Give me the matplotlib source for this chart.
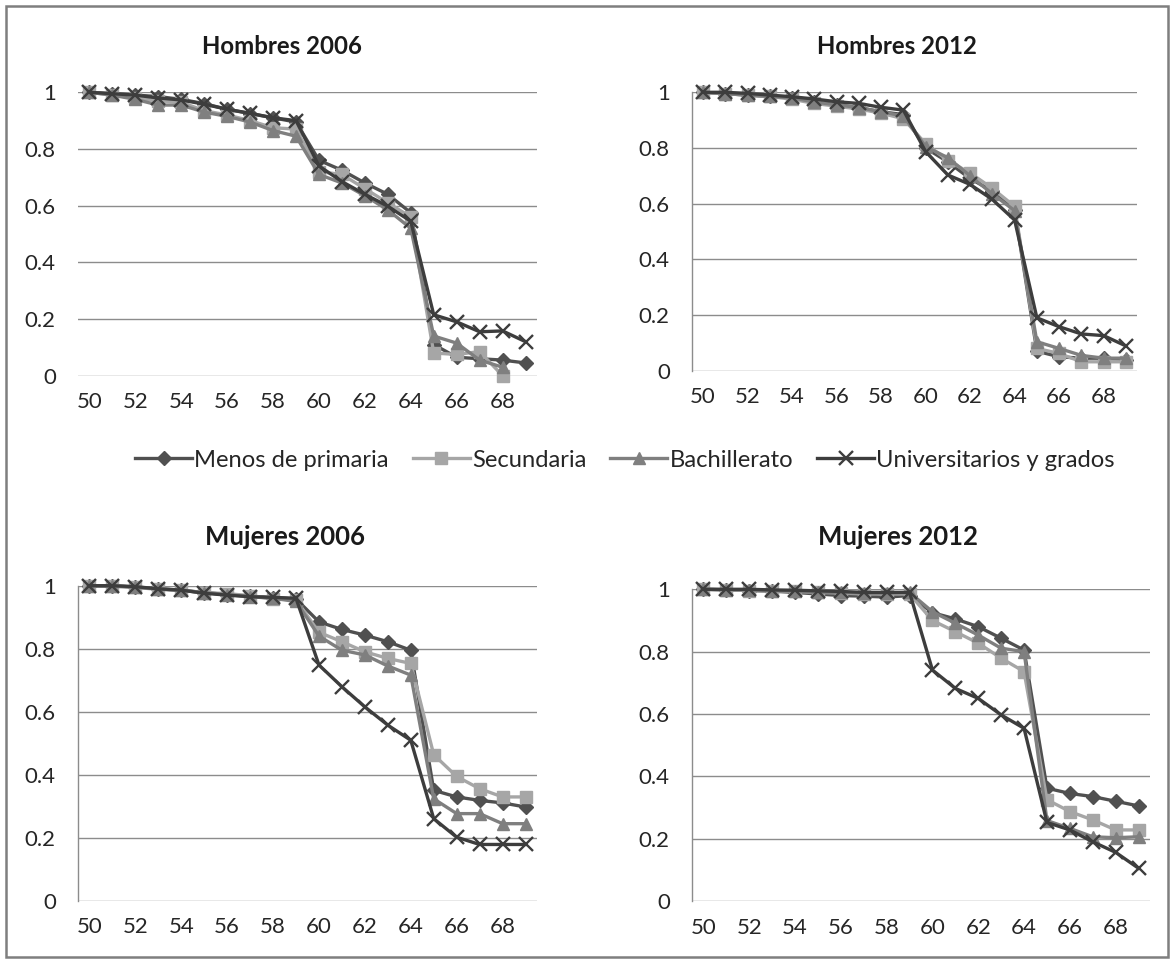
import numpy as np
import matplotlib
matplotlib.use("Agg")
import matplotlib.pyplot as plt
from matplotlib.patches import Rectangle

plt.rcParams['font.family'] = ['Lato', 'DejaVu Sans']

edades = list(range(50, 70))
etiquetas_x = [str(e) for e in range(50, 70, 2)]
etiquetas_y = ["0", "0.2", "0.4", "0.6", "0.8", "1"]

series = ["Menos de primaria", "Secundaria", "Bachillerato", "Universitarios y grados"]

# Hombres 2006
h06_menos = [1.0, 0.995, 0.99, 0.985, 0.975, 0.96, 0.94, 0.925, 0.91, 0.895,
             0.76, 0.725, 0.68, 0.64, 0.575, 0.11, 0.065, 0.06, 0.055, 0.045]
h06_secun = [1.0, 0.99, 0.98, 0.97, 0.965, 0.935, 0.92, 0.9, 0.875, 0.87,
             0.72, 0.71, 0.66, 0.61, 0.56, 0.08, 0.075, 0.085, 0.0, np.nan]
h06_bach = [1.0, 0.99, 0.975, 0.955, 0.955, 0.93, 0.915, 0.895, 0.865, 0.845,
            0.71, 0.68, 0.635, 0.585, 0.52, 0.14, 0.115, 0.055, 0.03, np.nan]
h06_univ = [1.0, 0.995, 0.99, 0.98, 0.973, 0.958, 0.94, 0.926, 0.91, 0.9,
            0.74, 0.685, 0.64, 0.598, 0.545, 0.215, 0.19, 0.155, 0.158, 0.12]

# Hombres 2012
h12_menos = [1.0, 0.995, 0.99, 0.985, 0.98, 0.965, 0.955, 0.945, 0.93, 0.92,
             0.80, 0.75, 0.69, 0.645, 0.578, 0.07, 0.05, 0.045, 0.045, 0.04]
h12_secun = [1.0, 0.995, 0.99, 0.985, 0.975, 0.96, 0.95, 0.94, 0.925, 0.905,
             0.815, 0.755, 0.71, 0.655, 0.59, 0.08, 0.062, 0.032, 0.032, 0.032]
h12_bach = [1.0, 0.995, 0.99, 0.985, 0.98, 0.965, 0.955, 0.945, 0.93, 0.915,
            0.805, 0.765, 0.70, 0.635, 0.575, 0.104, 0.08, 0.055, 0.045, 0.045]
h12_univ = [1.0, 1.0, 0.996, 0.99, 0.984, 0.976, 0.966, 0.96, 0.946, 0.936,
            0.787, 0.703, 0.669, 0.615, 0.541, 0.19, 0.158, 0.132, 0.126, 0.089]

# Mujeres 2006
m06_menos = [1.0, 1.0, 0.996, 0.99, 0.986, 0.978, 0.972, 0.967, 0.962, 0.958,
             0.885, 0.861, 0.843, 0.822, 0.795, 0.35, 0.329, 0.318, 0.31, 0.297]
m06_secun = [1.0, 1.0, 0.995, 0.988, 0.985, 0.978, 0.975, 0.968, 0.958, 0.955,
             0.852, 0.822, 0.79, 0.769, 0.753, 0.463, 0.394, 0.355, 0.329, 0.329]
m06_bach = [1.0, 0.998, 0.995, 0.99, 0.985, 0.978, 0.972, 0.965, 0.96, 0.95,
            0.84, 0.795, 0.78, 0.745, 0.716, 0.323, 0.276, 0.276, 0.244, 0.244]
m06_univ = [1.0, 1.0, 0.997, 0.99, 0.986, 0.976, 0.97, 0.965, 0.963, 0.96,
            0.748, 0.679, 0.615, 0.557, 0.509, 0.26, 0.201, 0.178, 0.178, 0.178]

# Mujeres 2012
m12_menos = [1.0, 0.998, 0.996, 0.994, 0.99, 0.985, 0.98, 0.978, 0.975, 0.98,
             0.925, 0.905, 0.88, 0.843, 0.805, 0.362, 0.345, 0.335, 0.32, 0.305]
m12_secun = [1.0, 0.998, 0.996, 0.995, 0.993, 0.99, 0.988, 0.985, 0.985, 0.985,
             0.90, 0.864, 0.827, 0.779, 0.736, 0.325, 0.287, 0.26, 0.228, 0.228]
m12_bach = [1.0, 0.999, 0.998, 0.996, 0.994, 0.99, 0.99, 0.988, 0.988, 0.99,
            0.928, 0.891, 0.853, 0.811, 0.80, 0.258, 0.233, 0.206, 0.203, 0.206]
m12_univ = [1.0, 1.0, 1.0, 0.998, 0.997, 0.995, 0.993, 0.99, 0.99, 0.99,
            0.741, 0.682, 0.65, 0.597, 0.554, 0.252, 0.228, 0.19, 0.156, 0.105]

paneles = [
    ("Hombres 2006", [h06_menos, h06_secun, h06_bach, h06_univ]),
    ("Hombres 2012", [h12_menos, h12_secun, h12_bach, h12_univ]),
    ("Mujeres 2006", [m06_menos, m06_secun, m06_bach, m06_univ]),
    ("Mujeres 2012", [m12_menos, m12_secun, m12_bach, m12_univ]),
]

colores = ["#505050", "#a6a6a6", "#7f7f7f", "#3d3d3d"]
marcadores = ["D", "s", "^", "x"]
tam_marcador = [7, 8.5, 9, 9.5]

W, H = 1174, 963
fig = plt.figure(figsize=(W / 100, H / 100), dpi=100)
renderer = fig.canvas.get_renderer()


def caja(x0, x1, ytop, ybot):
    return [x0 / W, 1 - ybot / H, (x1 - x0) / W, (ybot - ytop) / H]


def ajustar_ancho(artista, ancho_px, tam):
    """Scale a text's font size so its rendered width is ancho_px."""
    w = artista.get_window_extent(renderer).width
    artista.set_fontsize(tam * ancho_px / w)


posiciones = [
    caja(78, 537, 92.3, 375.7),
    caja(692, 1137, 92.3, 370.7),
    caja(78, 537, 585.7, 900.5),
    caja(692, 1150, 589.3, 901),
]
titulos_pos = [(282, 46), (897, 46), (285, 537), (898, 537)]
eje_izq = [False, True, True, True]

lineas = []
for i, ((titulo, datos), pos) in enumerate(zip(paneles, posiciones)):
    ax = fig.add_axes(pos)
    for j, vals in enumerate(datos):
        kw = dict(color=colores[j], lw=2.4, marker=marcadores[j],
                  markersize=tam_marcador[j], clip_on=False, zorder=3 + j)
        if marcadores[j] == "x":
            kw.update(markeredgewidth=1.7)
        else:
            kw.update(markeredgecolor=colores[j])
        ln, = ax.plot(edades, vals, label=series[j], **kw)
        if i == 0:
            lineas.append(ln)
    ax.set_xlim(49.5, 69.5)
    ax.set_ylim(0, 1)
    ax.set_xticks(list(range(50, 70, 2)))
    ax.set_xticklabels(etiquetas_x)
    ax.set_yticks([0, 0.2, 0.4, 0.6, 0.8, 1.0])
    ax.set_yticklabels(etiquetas_y)
    ax.tick_params(axis="both", length=0, labelsize=16, colors="#262626")
    ax.tick_params(axis="y", pad=16)
    ax.tick_params(axis="x", pad=12)
    ax.grid(axis="y", color="#8c8c8c", lw=1.0, zorder=0)
    ax.set_axisbelow(True)
    for s in ["top", "right", "bottom"]:
        ax.spines[s].set_visible(False)
    if eje_izq[i]:
        ax.spines["left"].set_color("#8c8c8c")
        ax.spines["left"].set_linewidth(1.0)
    else:
        ax.spines["left"].set_visible(False)
    tx, ty = titulos_pos[i]
    t = fig.text(tx / W, 1 - ty / H, titulo, ha="center", va="center",
                 fontsize=18, fontweight="bold", color="#1a1a1a")
    ajustar_ancho(t, 160, 18)

leg = fig.legend(lineas, series, loc="center", ncol=4,
                 bbox_to_anchor=(625 / W, 1 - 460 / H), frameon=False,
                 fontsize=16, handlelength=2.4, handletextpad=0.1,
                 columnspacing=1.0, labelcolor="#262626",
                 borderpad=0, borderaxespad=0)
ancho_leg = leg.get_window_extent(renderer).width
leg.remove()
leg = fig.legend(lineas, series, loc="center", ncol=4,
                 bbox_to_anchor=(625 / W, 1 - 460 / H), frameon=False,
                 fontsize=16 * 984 / ancho_leg, handlelength=2.4,
                 handletextpad=0.1, columnspacing=1.0, labelcolor="#262626",
                 borderpad=0, borderaxespad=0)

fig.add_artist(Rectangle((6 / W, 6 / H), (W - 12) / W, (H - 12) / H,
                         transform=fig.transFigure, fill=False,
                         edgecolor="#7f7f7f", lw=1.8))

fig.savefig("out.png", dpi=100, facecolor="white")
